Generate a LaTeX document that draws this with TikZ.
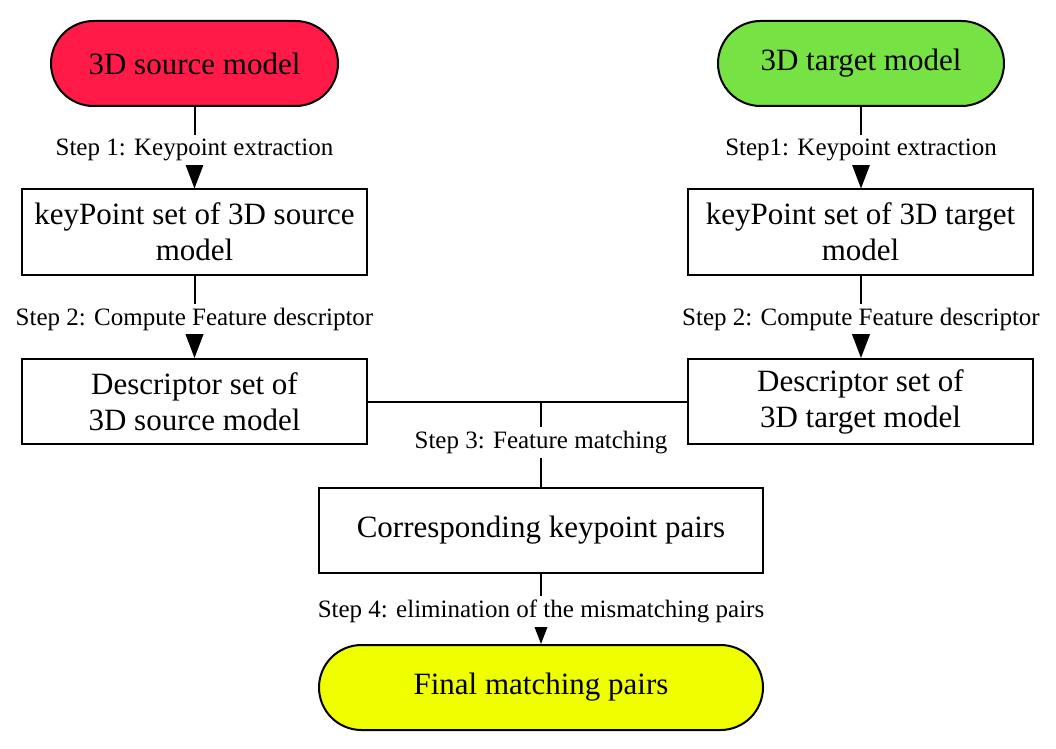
\documentclass[tikz,border=0pt]{standalone}
\usepackage{fontspec}
\setmainfont{Liberation Serif}
\usetikzlibrary{arrows.meta}
\definecolor{srcred}{RGB}{255,26,71}
\definecolor{tgtgreen}{RGB}{118,226,68}
\definecolor{finyellow}{RGB}{240,255,0}
\begin{document}
\begin{tikzpicture}[x=0.5pt,y=-0.5pt,
 box/.style={draw,line width=1pt,rectangle,minimum width=172.5pt,minimum height=42.5pt,align=center,inner sep=0pt,font=\fontsize{15.5}{18}\selectfont},
 term/.style={box,rounded corners=21.25pt},
 lbl/.style={fill=white,inner sep=2pt,yshift=-1.2pt,font=\fontsize{12.5}{14}\selectfont},
 conn/.style={line width=1pt},
 bigarrow/.style={conn,-{Triangle[width=10pt,length=13.5pt]}},
 smallarrow/.style={conn,-{Triangle[width=7pt,length=9.5pt]}},
]
\useasboundingbox (0,0) rectangle (1056,749);
\node[term,fill=srcred,minimum width=143.5pt] (src) at (194.5,63.5) {3D source model};
\node[term,fill=tgtgreen,minimum width=143pt] (tgt) at (861,63.5) {3D target model};
\node[box] (kps) at (194.5,232) {keyPoint set of 3D source\\model};
\node[box] (kpt) at (860.5,232) {keyPoint set of 3D target\\model};
\node[box] (ds) at (194.5,401.5) {Descriptor set of\\3D source model};
\node[box] (dt) at (860.5,401.5) {Descriptor set of\\3D target model};
\node[box,minimum width=222pt] (cp) at (541,530.5) {Corresponding keypoint pairs};
\node[term,fill=finyellow,minimum width=222pt] (fin) at (541,687.5) {Final matching pairs};
\coordinate (j) at (541,401.5);
\draw[bigarrow] (src) -- node[lbl]{Step 1: Keypoint extraction} (kps);
\draw[bigarrow] (tgt.south) -- node[lbl]{Step1: Keypoint extraction} (kpt.north -| tgt.south);
\draw[bigarrow] (kps) -- node[lbl]{Step 2: Compute Feature descriptor} (ds);
\draw[bigarrow] (kpt.south -| tgt.south) -- node[lbl]{Step 2: Compute Feature descriptor} (dt.north -| tgt.south);
\draw[conn] (ds.east) -- (dt.west);
\draw[conn] (j) -- node[lbl,pos=0.45]{Step 3: Feature matching} (cp.north);
\draw[smallarrow] (cp) -- node[lbl]{Step 4: elimination of the mismatching pairs} (fin);
\end{tikzpicture}
\end{document}
